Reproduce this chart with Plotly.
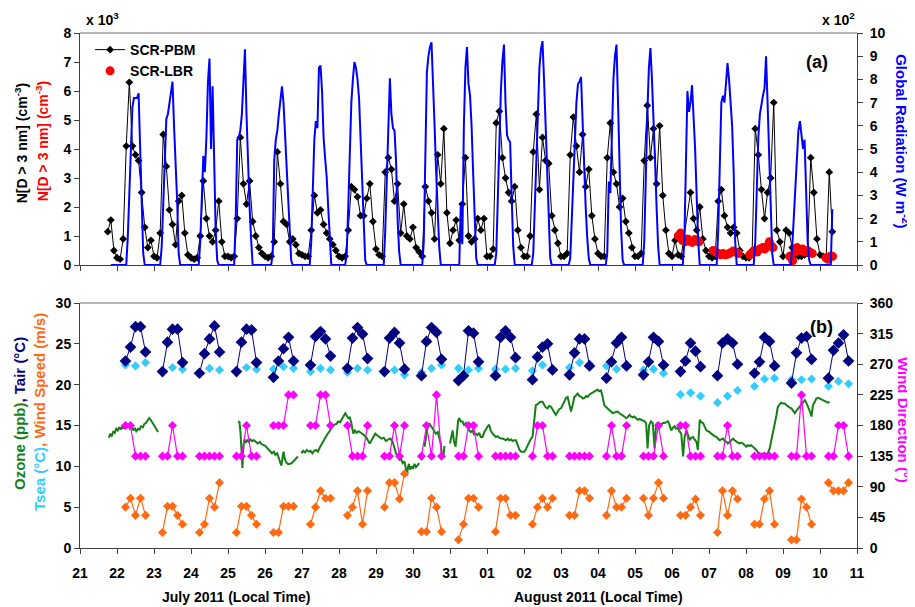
import plotly.graph_objects as go

FONT = "Liberation Sans, Arial, sans-serif"

# ---------------- x axis (days since 21 July 2011 00:00) ----------------
DAY_LABELS = ["21", "22", "23", "24", "25", "26", "27", "28", "29", "30", "31",
              "01", "02", "03", "04", "05", "06", "07", "08", "09", "10", "11"]

# ---------------- (a) SCR-PBM, x10^3 cm^-3, every 2 h ----------------
PBM_HOURS = [0, 2, 4, 6, 8, 10, 12, 14, 16, 18, 20, 22]
pbm_first_hours = [18, 20, 22]            # 21 July
pbm_first = [1.15, 1.55, 0.5]
pbm_days = [                               # 22 July ... 09 August
    [0.25, 0.2, 0.9, 4.1, 6.3, 4.1, 3.8, 3.6, 2.5, 1.3, 0.6, 0.85],
    [0.3, 0.25, 1.1, 4.5, 3.4, 1.9, 1.4, 0.7, 2.2, 2.4, 1.1, 0.35],
    [0.25, 0.2, 0.25, 1.0, 2.9, 1.6, 1.0, 0.8, 1.2, 2.2, 0.8, 0.3],
    [0.3, 0.25, 0.3, 1.6, 4.4, 2.8, 2.1, 2.9, 1.5, 1.0, 0.6, 0.4],
    [0.3, 0.25, 0.3, 0.8, 3.9, 2.8, 1.5, 1.4, 0.8, 0.9, 0.7, 0.4],
    [0.35, 0.3, 0.3, 1.2, 2.4, 1.8, 1.9, 1.4, 1.1, 0.9, 0.7, 0.5],
    [0.3, 0.25, 0.3, 1.2, 2.7, 2.6, 2.35, 1.7, 1.7, 2.3, 2.8, 1.5],
    [0.55, 0.35, 0.3, 3.2, 3.7, 3.3, 2.2, 2.8, 1.1, 2.1, 1.0, 0.9],
    [1.3, 0.6, 0.45, 0.3, 2.7, 2.2, 1.8, 0.9, 3.8, 2.8, 4.7, 1.8],
    [0.75, 1.2, 1.55, 0.85, 2.1, 3.7, 1.0, 0.8, 0.9, 1.6, 1.2, 1.6],
    [0.3, 0.3, 0.55, 4.9, 5.3, 3.7, 3.0, 2.5, 2.2, 2.7, 1.2, 0.6],
    [0.3, 0.3, 1.0, 3.9, 5.2, 2.6, 4.4, 3.6, 3.5, 1.7, 1.2, 0.75],
    [0.3, 0.3, 0.4, 3.8, 5.1, 4.1, 3.2, 4.5, 2.7, 3.3, 1.7, 0.9],
    [0.4, 0.3, 0.3, 3.7, 4.9, 3.2, 2.8, 2.0, 2.3, 1.5, 1.1, 0.6],
    [0.3, 0.3, 0.4, 3.6, 5.5, 3.7, 4.7, 2.8, 4.8, 2.4, 1.2, 0.4],
    [0.3, 0.85, 0.35, 0.3, None, None, 2.5, 1.6, 1.2, 2.0, 0.9, 0.5],
    [0.3, 0.25, 0.3, 2.2, 2.6, 1.7, 1.3, 1.1, 1.3, 1.1, 0.5, 0.3],
    [0.25, 0.25, 0.5, 4.7, 3.8, 2.6, 1.6, 2.5, 3.0, 5.6, 1.2, 0.8],
    [0.3, 1.2, 1.1, 0.6, 0.35, 0.3, 0.3, 0.35, 0.4, 3.7, 2.5, 0.9],
]
pbm_last_hours = [0, 2, 4, 6, 8]          # 10 August
pbm_last = [0.35, 0.3, 0.25, 3.2, 1.15]

# ---------------- (a) SCR-LBR, x10^3 cm^-3 ----------------
lbr_t = [16.17, 16.23, 16.28, 16.35, 16.42, 16.48, 16.55, 16.62, 16.68, 16.73,
         17.11, 17.18, 17.25, 17.31, 17.38, 17.45, 17.52, 17.58, 17.65, 17.72, 17.79,
         18.10, 18.18, 18.24, 18.30, 18.37, 18.45, 18.51, 18.57, 18.63, 18.69, 18.73,
         19.18, 19.26, 19.32, 19.38, 19.45, 19.53, 19.59, 19.66, 19.72, 19.79,
         20.16, 20.22, 20.28, 20.34]
lbr_v = [1.0, 1.1, 0.85, 0.8, 0.9, 0.82, 0.78, 0.88, 0.85, 0.8,
         0.5, 0.45, 0.4, 0.35, 0.4, 0.35, 0.38, 0.42, 0.48, 0.45, 0.4,
         0.35, 0.45, 0.5, 0.45, 0.55, 0.6, 0.55, 0.65, 0.8, 0.65, 0.6,
         0.3, 0.15, 0.45, 0.6, 0.5, 0.55, 0.45, 0.5, 0.45, 0.4,
         0.25, 0.2, 0.3, 0.3]

# ---------------- (a) Global radiation, x10^2 W m^-2, hourly 04-19 h ----------------
RAD_HOURS = list(range(4, 20))
rad_first_hours = [20, 23]                 # 21 July
rad_first = [0, 0]
rad_days = [                               # 22 July ... 09 August
    [0, 0, 0, 1.2, 3.0, 4.5, 6.8, 7.2, 7.2, 7.2, 7.4, 5.0, 2.5, 0.5, 0, 0],
    [0, 0.8, 2.5, 4.5, 6.3, 6.5, 7.0, 7.6, 7.9, 6.0, 4.5, 2.8, 0.5, 0, 0, 0],
    [0, 0, 1.0, 3.0, 4.7, 4.0, 5.5, 7.9, 8.9, 5.0, 7.7, 4.6, 1.5, 0.2, 0, 0],
    [0, 2.0, 5.4, 5.5, 5.8, 6.5, 7.8, 9.3, 6.5, 4.0, 2.5, 1.1, 0, 0, 0, 0],
    [0, 0.5, 4.5, 5.4, 5.8, 6.5, 7.0, 7.7, 7.0, 5.5, 4.6, 3.0, 1.7, 0.2, 0, 0],
    [0, 0, 1.0, 3.0, 5.4, 6.2, 5.9, 8.5, 8.6, 7.5, 5.5, 4.6, 3.8, 2.5, 1.0, 0],
    [0, 0.5, 2.5, 5.0, 7.0, 8.0, 8.75, 8.5, 8.0, 7.2, 5.5, 3.5, 1.5, 0.2, 0, 0],
    [0, 0, 1.5, 4.0, 6.5, 8.05, 6.5, 5.9, 5.8, 4.5, 2.0, 0.6, 0, 0, 0, 0],
    [0, 0, 0, 1.0, 5.0, 8.3, 9.0, 9.4, 9.6, 8.0, 6.0, 4.0, 2.0, 0.8, 0, 0],
    [0, 0, 0, 2.6, 0.9, 6.0, 8.5, 9.4, 7.8, 7.3, 6.0, 4.0, 2.0, 0.3, 0, 0],
    [0, 0, 0.5, 3.0, 5.5, 7.5, 8.8, 9.5, 7.0, 5.6, 5.4, 5.3, 3.0, 0.8, 0, 0],
    [0, 0, 0.5, 2.5, 5.0, 7.0, 8.5, 9.3, 9.65, 8.0, 6.0, 3.5, 1.5, 0.3, 0, 0],
    [0, 0, 0.3, 2.0, 4.0, 6.0, 7.0, 7.8, 7.9, 8.1, 6.0, 4.0, 2.5, 1.2, 0.3, 0],
    [0, 0, 0.5, 3.6, 3.1, 6.0, 8.0, 9.0, 9.5, 7.0, 4.0, 1.5, 0.2, 0, 0, 0],
    [0, 0, 1.0, 4.0, 6.5, 8.5, 9.35, 8.0, 6.5, 4.5, 2.5, 0.8, 0, 0, 0, 0],
    [0, 0, 0, 0, 1.0, 4.0, 7.5, 6.6, 7.0, 7.75, 6.5, 5.0, 3.0, 1.0, 0, 0],
    [0, 0, 1.5, 5.0, 7.0, 7.3, 7.0, 7.8, 8.7, 8.0, 7.0, 6.0, 4.0, 1.0, 0, 0],
    [0, 0, 1.0, 3.5, 5.5, 6.5, 7.0, 7.3, 7.6, 9.0, 7.0, 4.5, 2.0, 0.5, 0, 0],
    [0, 0, 0.8, 2.0, 3.5, 4.8, 5.8, 6.2, 5.5, 5.0, 5.4, 3.0, 1.0, 0.2, 0, 0],
]
rad_last_hours = [4, 5, 6, 7, 8]           # 10 August
rad_last = [0, 0, 0, 0, 2.4]

# ---------------- (b) daily 3-hourly observations, 22 July ... 10 August ----------------
OBS_HOURS = [5.5, 8.75, 12.0, 15.25, 18.5]
TSEA_HOURS = [5.5, 12.0, 18.5]
obs_days = list(range(1, 21))
tair = [
    [22.9, 24.6, 27.1, 27.1, 24.0], [21.6, 25.2, 26.8, 26.8, 22.7],
    [21.4, 23.8, 25.6, 27.2, 24.0], [21.6, 25.2, 26.8, 26.7, 22.7],
    [20.9, 22.9, 24.4, 25.8, 22.9], [22.4, 25.9, 26.5, 25.6, 23.5],
    [22.0, 25.7, 27.0, 26.2, 23.2], [21.6, 25.7, 26.4, 25.1, 21.9],
    [21.1, 25.3, 27.0, 26.4, 23.1], [20.5, 21.1, 26.6, 26.3, 22.8],
    [21.1, 25.8, 26.6, 25.8, 23.3], [20.6, 23.4, 24.6, 25.0, 21.8],
    [21.2, 23.9, 25.6, 25.6, 22.3], [20.8, 22.8, 25.1, 25.8, 22.3],
    [21.2, 22.8, 25.8, 25.3, 22.4], [21.6, 22.9, 25.1, 24.1, 22.2],
    [21.1, 25.1, 25.6, 25.1, 22.5], [21.4, 22.8, 25.8, 25.3, 22.3],
    [20.2, 23.9, 25.7, 25.9, 23.1], [20.8, 24.2, 25.1, 26.1, 22.9],
]
tsea = [
    [22.4, 22.3, 22.7], [21.6, 22.1, 21.9], [21.4, 22.0, 21.8], [21.6, 22.1, 21.9],
    [21.9, 22.2, 22.0], [21.6, 22.0, 21.8], [21.5, 22.0, 21.8], [21.5, 21.8, 21.2],
    [21.5, 22.0, 22.4], [22.0, 21.8, 22.0], [21.9, 21.9, 22.0], [21.7, 22.4, 21.8],
    [22.1, 22.7, 22.5], [22.3, 21.9, 22.2], [21.8, 21.9, 21.4], [18.8, 19.0, 18.6],
    [17.8, 18.6, 19.3], [19.8, 20.7, 20.8], [20.6, 20.6, 20.7], [19.8, 20.4, 20.1],
]
wind_speed = [
    [5.0, 6.1, 4.0, 6.1, 4.0], [1.9, 5.1, 5.1, 4.0, 2.9], [1.9, 2.9, 6.1, 5.0, 8.0],
    [1.9, 5.1, 5.1, 4.0, 2.9], [1.9, 1.9, 5.1, 5.1, 5.1], [2.9, 5.0, 7.0, 6.1, 6.1],
    [4.0, 5.0, 7.0, 2.9, 7.0], [5.0, 8.0, 8.0, 6.0, 9.1], [2.0, 2.0, 6.1, 5.0, 2.0],
    [1.0, 2.9, 6.1, 6.1, 5.0], [2.0, 6.1, 6.1, 4.0, 4.0], [2.9, 5.0, 6.1, 5.0, 6.1],
    [4.0, 4.0, 7.0, 7.0, 6.1], [4.0, 7.0, 5.0, 5.0, 6.1], [6.1, 4.0, 6.1, 8.0, 6.1],
    [4.0, 4.0, 5.0, 6.0, 4.0], [1.9, 7.0, 4.0, 7.0, 6.0], [2.9, 2.9, 6.0, 7.0, 2.9],
    [1.0, 1.0, 6.0, 5.0, 2.9], [8.0, 7.0, 7.0, 7.0, 8.0],
]
wind_dir = [
    [180, 180, 135, 135, 135], [135, 135, 180, 135, 135], [135, 135, 135, 135, 135],
    [135, 135, 180, 135, 135], [180, 180, 180, 225, 225], [180, 180, 225, 225, 180],
    [180, 135, 135, 135, 180], [135, 135, 180, 135, 180], [135, 180, 135, 225, 135],
    [135, 135, 180, 180, 135], [135, 135, 135, 135, 135], [135, 180, 180, 135, 135],
    [135, 135, 135, 135, 135], [135, 180, 135, 135, 180], [135, 135, 135, 180, 135],
    [180, 180, 135, 135, 135], [135, 135, 180, 135, 135], [135, 135, 135, 135, 135],
    [135, 135, 225, 135, 135], [135, 135, 180, 180, 135],
]

# ---------------- (b) Ozone (ppb), None = data gap ----------------
ozone_t = [
    0.78, 0.82, 0.86, 0.90, 0.94, 0.98, 1.02, 1.06, 1.10, 1.14, 1.18, 1.22, 1.27, 1.31, 1.35,
    1.40, 1.44, 1.48, 1.52, 1.57, 1.61, 1.65, 1.70, 1.74, 1.78, 1.83, 1.87, 1.91, 1.95, 1.99,
    2.03, 2.07, 2.11, None,
    4.27, 4.31, 4.34, 4.37, 4.39, 4.41, 4.44, 4.48, 4.52, 4.56, 4.60, 4.65, 4.70, 4.75, 4.80,
    4.86, 4.91, 4.96, 5.01, 5.05, 5.10, 5.15, 5.19, 5.24, 5.28, 5.33, 5.37, 5.41, 5.44, 5.47,
    5.50, 5.53, 5.57, 5.62, 5.67, 5.72, 5.77, 5.82, 5.86, 5.89, None,
    5.98, 6.03, 6.08, 6.13, 6.18, 6.23, 6.28, 6.33, 6.38, 6.43, 6.48, 6.53, 6.58, 6.63, 6.68,
    6.73, 6.78, 6.83, 6.88, 6.93, 6.98, 7.03, 7.08, 7.13, 7.17, 7.21, 7.25, 7.29, 7.33, 7.36,
    7.39, 7.43, 7.48, 7.53, 7.58, 7.63, 7.68, 7.73, 7.78, 7.83, 7.88, 7.93, 7.98, 8.03, 8.09,
    8.15, 8.21, 8.27, 8.33, 8.39, 8.45, 8.50, 8.54, 8.59, 8.63, 8.68, 8.72, 8.77, 8.81, 8.84,
    8.86, 8.89, 8.92, 8.96, 9.00, 9.04, 9.08, 9.13, 9.17, None,
    9.31, 9.35, 9.40, 9.45, 9.49, 9.54, 9.58, 9.62, 9.67, 9.71, 9.75, 9.78, 9.82, 9.85, None,
    10.00, 10.04, 10.07, 10.11, 10.15, 10.19, 10.22, 10.25, 10.29, 10.34, 10.38, 10.43, 10.47,
    10.52, 10.56, 10.61, 10.65, 10.70, 10.74, 10.79, 10.83, 10.88, 10.93, 10.97, 11.02, 11.06,
    11.10, 11.15, 11.20, 11.24, 11.29, 11.33, 11.38, 11.42, 11.47, 11.51, 11.56, 11.60, 11.65,
    11.69, 11.74, 11.78, 11.83, 11.88, 11.92, 11.97, 12.01, 12.06, 12.10, 12.15, 12.19, 12.23,
    12.28, 12.32, 12.37, 12.41, 12.46, 12.50, 12.55, 12.59, 12.64, 12.68, 12.73, 12.77, 12.82,
    12.86, 12.91, 12.95, 13.00, 13.05, 13.10, 13.14, 13.18, 13.23, 13.27, 13.32, 13.36, 13.41,
    13.45, 13.50, 13.55, 13.59, 13.64, 13.68, 13.72, 13.77, 13.81, 13.86, 13.90, 13.95, 13.99,
    14.03, 14.08, 14.12, 14.17, 14.21, 14.26, 14.31, 14.35, 14.40, 14.44, 14.49, 14.53, 14.58,
    14.62, 14.67, 14.71, 14.76, 14.80, 14.85, 14.89, 14.94, 14.98, 15.03, 15.07, 15.12, 15.17,
    15.21, 15.26, 15.30, 15.34, 15.38, 15.43, 15.48, 15.53, 15.57, 15.62, 15.66, 15.71, 15.75,
    15.80, 15.84, 15.89, 15.93, 15.98, 16.02, 16.07, 16.11, 16.16, 16.20, 16.25, 16.30, 16.34,
    16.39, 16.43, 16.48, 16.52, 16.57, 16.61, 16.66, 16.70, 16.75, 16.79, 16.84, 16.88, 16.93,
    16.97, 17.02, 17.06, 17.11, 17.15, 17.20, 17.24, 17.29, 17.33, 17.38, 17.42, 17.47, 17.51,
    17.56, 17.60, 17.65, 17.69, 17.74, 17.78, 17.83, 17.87, 17.92, 17.96, 18.01, 18.05, 18.10,
    18.14, 18.19, 18.23, 18.28, 18.32, 18.37, 18.41, 18.46, 18.50, 18.55, 18.59, 18.64, 18.68,
    18.73, 18.77, 18.82, 18.86, 18.91, 18.95, 19.00, 19.05, 19.09, 19.14, 19.18, 19.23, 19.27,
    19.32, 19.36, 19.41, 19.45, 19.50, 19.54, 19.59, 19.63, 19.68, 19.72, 19.77, 19.81, 19.86,
    19.90, 19.95, 19.99, 20.04, 20.08, 20.13, 20.17, 20.22, 20.26,
]
ozone_v = [
    13.5, 14.0, 13.7, 14.3, 14.1, 14.6, 14.4, 14.8, 14.5, 14.9, 14.6, 15.0, 14.8, 15.0, 14.6,
    14.9, 14.4, 14.7, 14.3, 14.6, 14.5, 14.9, 14.8, 15.2, 15.3, 15.6, 15.9, 15.7, 15.4, 15.0,
    14.8, 14.5, 14.2, None,
    15.5, 15.4, 14.0, 11.0, 9.8, 12.0, 13.3, 12.9, 13.2, 13.0, 13.3, 13.1, 13.2, 13.0, 12.8,
    13.0, 12.7, 12.6, 12.5, 12.3, 12.0, 11.8, 11.6, 11.8, 11.4, 11.6, 11.0, 10.6, 10.1, 10.9,
    11.8, 11.0, 10.5, 10.3, 10.3, 10.4, 10.6, 10.8, 11.0, 11.2, None,
    11.6, 11.9, 11.7, 12.0, 11.8, 11.9, 11.6, 11.9, 12.0, 11.8, 12.3, 12.7, 13.1, 13.6, 13.9,
    14.2, 14.6, 14.9, 15.1, 15.2, 15.5, 15.4, 15.8, 16.2, 16.5, 16.2, 15.9, 16.0, 15.4, 14.6,
    14.0, 14.4, 14.1, 14.3, 14.2, 14.0, 13.8, 13.6, 13.2, 12.8, 13.2, 13.6, 14.0, 13.8, 13.6,
    13.4, 13.5, 13.1, 13.3, 13.4, 13.0, 12.0, 11.6, 11.2, 10.8, 10.9, 10.4, 10.6, 9.6, 8.9,
    9.8, 10.3, 9.6, 10.0, 9.7, 10.3, 9.9, 10.2, 10.4, None,
    12.4, 13.6, 14.9, 15.2, 14.9, 14.6, 14.4, 14.0, 14.2, 13.6, 12.8, 11.4, 11.2, 12.5, None,
    12.8, 14.0, 14.4, 13.0, 12.4, 14.2, 15.6, 15.9, 15.5, 15.5, 15.0, 15.3, 14.8,
    14.4, 14.2, 14.4, 13.9, 14.0, 13.8, 14.1, 13.6, 13.6, 14.2, 14.6, 14.9, 15.1,
    14.4, 14.0, 13.8, 13.6, 13.7, 13.5, 13.4, 13.4, 13.3, 13.2, 13.4, 13.2, 13.3,
    13.1, 13.2, 13.2, 12.6, 12.0, 11.8, 11.8, 11.8, 12.2, 12.6, 13.0, 13.4, 13.6,
    15.6, 17.5, 17.6, 17.8, 17.9, 17.9, 17.5, 17.2, 17.1, 17.4, 17.3, 16.9, 16.6,
    16.3, 16.7, 17.0, 17.1, 17.5, 18.0, 18.4, 18.5, 17.6, 16.7, 17.6, 18.5, 18.7,
    18.9, 18.6, 18.5, 18.3, 18.4, 18.6, 18.5, 18.8, 18.9, 19.1, 19.2, 19.3, 19.4,
    19.2, 19.3, 18.6, 17.5, 17.3, 17.1, 16.9, 16.7, 16.5, 16.6, 16.7, 16.7, 16.5,
    16.4, 16.3, 16.1, 15.9, 16.0, 16.3, 16.1, 16.0, 16.1, 15.9, 15.7, 15.8, 15.7,
    15.7, 15.5, 15.3, 12.2, 15.0, 15.5, 15.3, 12.2, 15.1, 15.4, 14.9, 15.2, 15.3,
    15.3, 15.4, 15.5, 15.1, 14.4, 14.7, 14.9, 14.6, 14.7, 14.3, 14.0, 11.2, 13.6,
    14.4, 13.8, 13.2, 13.5, 13.6, 13.3, 13.0, 12.0, 15.7, 15.4, 15.3, 14.9, 14.4,
    14.3, 14.2, 14.0, 13.8, 13.7, 13.6, 13.4, 13.2, 13.3, 13.4, 13.1, 13.0, 12.8,
    13.0, 13.2, 13.4, 13.2, 13.0, 12.9, 12.8, 12.9, 12.8, 12.6, 12.4, 12.6, 12.5,
    12.6, 12.4, 12.2, 12.0, 11.7, 11.4, 11.5, 11.6, 11.6, 11.5, 11.6, 12.2, 13.0,
    14.0, 14.9, 16.2, 17.3, 17.6, 17.8, 17.7, 17.7, 17.5, 17.3, 17.2, 17.1, 16.8,
    16.5, 16.8, 17.1, 17.3, 17.5, 17.8, 18.1, 17.8, 17.3, 16.8, 16.1, 17.5, 17.9,
    18.3, 18.4, 18.3, 18.2, 18.1, 18.0, 17.9, 17.8, 17.9,
]

# ---------------- colours ----------------
C_PBM = "#000000"
C_LBR = "#ff0000"
C_RAD = "#0000ff"
C_TAIR = "#000080"
C_TSEA = "#33ccff"
C_O3 = "#157f15"
C_WS = "#ff6a13"
C_WD = "#ff00ff"


def series(day_list, hours, rows, sep):
    xs, ys = [], []
    for d, row in zip(day_list, rows):
        for h, v in zip(hours, row):
            xs.append(d + h / 24.0)
            ys.append(v)
        if sep:
            xs.append(None)
            ys.append(None)
    return xs, ys


pbm_x = [0 + h / 24.0 for h in pbm_first_hours]
pbm_y = list(pbm_first)
px_, py_ = series(range(1, 1 + len(pbm_days)), PBM_HOURS, pbm_days, False)
pbm_x += px_
pbm_y += py_
pbm_x += [20 + h / 24.0 for h in pbm_last_hours]
pbm_y += pbm_last

rad_x = [0 + h / 24.0 for h in rad_first_hours]
rad_y = list(rad_first)
rx_, ry_ = series(range(1, 1 + len(rad_days)), RAD_HOURS, rad_days, False)
rad_x += rx_
rad_y += ry_
rad_x += [20 + h / 24.0 for h in rad_last_hours]
rad_y += rad_last

tair_x, tair_y = series(obs_days, OBS_HOURS, tair, True)
tsea_x, tsea_y = series(obs_days, TSEA_HOURS, tsea, True)
ws_x, ws_y = series(obs_days, OBS_HOURS, wind_speed, True)
wd_x, wd_y = series(obs_days, OBS_HOURS, wind_dir, True)

fig = go.Figure()

# ---- panel (a)
fig.add_trace(go.Scatter(x=pbm_x, y=pbm_y, name="SCR-PBM", mode="lines+markers",
                         connectgaps=True,
                         line=dict(color=C_PBM, width=1),
                         marker=dict(symbol="diamond", size=6, color=C_PBM),
                         xaxis="x2", yaxis="y"))
fig.add_trace(go.Scatter(x=lbr_t, y=lbr_v, name="SCR-LBR", mode="markers",
                         marker=dict(symbol="circle", size=9, color=C_LBR),
                         xaxis="x2", yaxis="y"))
fig.add_trace(go.Scatter(x=rad_x, y=rad_y, name="Global Radiation", mode="lines",
                         line=dict(color=C_RAD, width=2), showlegend=False,
                         xaxis="x2", yaxis="y2"))

# ---- panel (b)
fig.add_trace(go.Scatter(x=ozone_t, y=ozone_v, mode="lines", showlegend=False,
                         line=dict(color=C_O3, width=2), xaxis="x", yaxis="y3"))
fig.add_trace(go.Scatter(x=ws_x, y=ws_y, mode="lines+markers", showlegend=False,
                         line=dict(color=C_WS, width=1.2),
                         marker=dict(symbol="diamond", size=7, color=C_WS),
                         xaxis="x", yaxis="y3"))
fig.add_trace(go.Scatter(x=tsea_x, y=tsea_y, mode="markers", showlegend=False,
                         marker=dict(symbol="diamond", size=7, color=C_TSEA),
                         xaxis="x", yaxis="y3"))
fig.add_trace(go.Scatter(x=tair_x, y=tair_y, mode="lines+markers", showlegend=False,
                         line=dict(color=C_TAIR, width=1),
                         marker=dict(symbol="diamond", size=9, color=C_TAIR),
                         xaxis="x", yaxis="y3"))
fig.add_trace(go.Scatter(x=wd_x, y=wd_y, mode="lines+markers", showlegend=False,
                         line=dict(color=C_WD, width=1.2),
                         marker=dict(symbol="diamond", size=7, color=C_WD),
                         xaxis="x", yaxis="y4"))

TICKFONT = dict(family=FONT, size=14, color="black", weight="bold")
AX = dict(showgrid=False, zeroline=False, showline=True, linecolor="#404040",
          linewidth=1, ticks="outside", ticklen=5, tickcolor="#404040", tickfont=TICKFONT)

TOP_DOM = [0.5495, 1.0]
BOT_DOM = [0.0, 0.4757]

# The page body keeps an 8 px margin, so the figure is 8 px smaller and its
# left/top margins 8 px smaller to land the plot area where the reference has it.
fig.update_layout(
    width=907, height=599,
    margin=dict(l=72, r=58, t=25, b=59),
    paper_bgcolor="white", plot_bgcolor="white",
    font=dict(family=FONT, color="black"),
    showlegend=True,
    legend=dict(x=0.013, y=0.998, xanchor="left", yanchor="top",
                bgcolor="rgba(0,0,0,0)", itemwidth=30, tracegroupgap=0,
                font=dict(family=FONT, size=14, color="black", weight="bold")),
    xaxis=dict(AX, domain=[0, 1], range=[0, 21], anchor="y3", ticklabelstandoff=7,
               tickmode="array", tickvals=list(range(22)), ticktext=DAY_LABELS),
    xaxis2=dict(AX, domain=[0, 1], range=[0, 21], anchor="y", matches="x",
                tickmode="array", tickvals=list(range(22)), showticklabels=False),
    yaxis=dict(AX, domain=TOP_DOM, range=[0, 8], dtick=1, anchor="x2"),
    yaxis2=dict(AX, domain=TOP_DOM, range=[0, 10], dtick=1, anchor="x2",
                overlaying="y", side="right", ticklabelstandoff=4),
    yaxis3=dict(AX, domain=BOT_DOM, range=[0, 30], dtick=5, anchor="x"),
    yaxis4=dict(AX, domain=BOT_DOM, range=[0, 360], dtick=45, anchor="x",
                overlaying="y3", side="right", ticklabelstandoff=4),
)

for ytop in (TOP_DOM[1], BOT_DOM[1]):
    fig.add_shape(type="line", xref="paper", yref="paper", x0=0, x1=1, y0=ytop, y1=ytop,
                  line=dict(color="#a0a0a0", width=1.5))


def ann(text, x, y, size=14, color="black", angle=0, xanchor="center", yanchor="middle"):
    fig.add_annotation(text=text, x=x, y=y, xref="paper", yref="paper", showarrow=False,
                       textangle=angle, xanchor=xanchor, yanchor=yanchor,
                       font=dict(family=FONT, size=size, color=color, weight="bold"))


ann("x 10<sup>3</sup>", 0.005, 1.028, size=14, xanchor="left")
ann("x 10<sup>2</sup>", 1.0, 1.028, size=14, xanchor="right")
ann("(a)", 0.9485, 0.9437, size=18)
ann("(b)", 0.9537, 0.4291, size=18)
ann("N[D &gt; 3 nm] (cm<sup>-3</sup>)", -0.0759, 0.786, size=14, angle=-90)
ann("N[D &gt; 3 nm] (cm<sup>-3</sup>)", -0.0489, 0.790, size=14, color=C_LBR, angle=-90)
ann("Global Radiation (W m<sup>-2</sup>)", 1.0592, 0.790, size=15, color=C_RAD, angle=90)
ann('<span style="color:%s">Ozone (ppb)</span>, <span style="color:%s">Tair (°C)</span>'
    % (C_O3, C_TAIR), -0.0772, 0.2602, size=15, color=C_TAIR, angle=-90)
ann('<span style="color:%s">Tsea (°C)</span>, <span style="color:%s">Wind Speed (m/s)</span>'
    % (C_TSEA, C_WS), -0.0515, 0.2641, size=15, color=C_WS, angle=-90)
ann("Wind Direction (°)", 1.0605, 0.2485, size=15, color=C_WD, angle=90)
ann("July 2011 (Local Time)", 0.2008, -0.0951, size=14)
ann("August 2011 (Local Time)", 0.6667, -0.0951, size=14)

fig.write_html("out.html")
